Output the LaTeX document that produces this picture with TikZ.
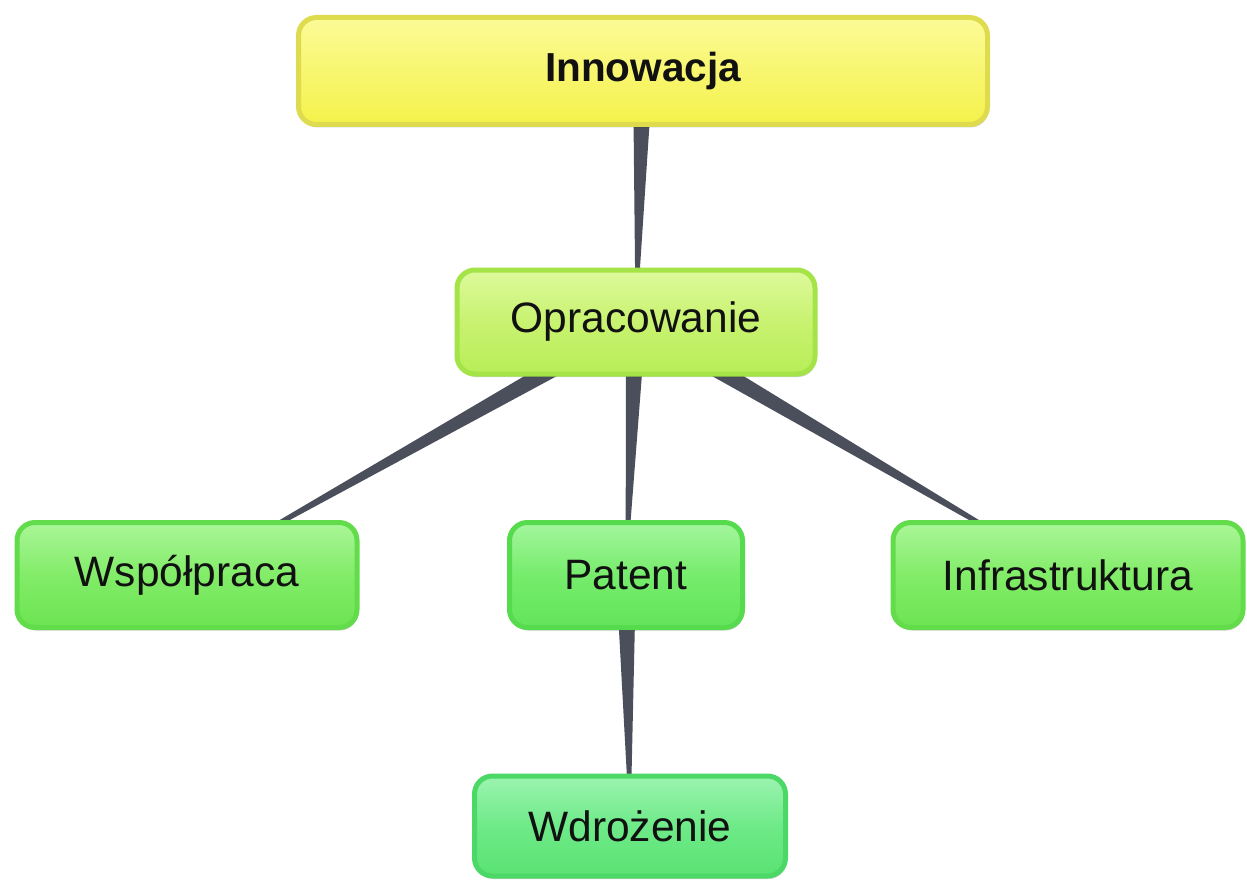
\documentclass[tikz,border=0pt]{standalone}
\usepackage{fontspec}
\setmainfont{Liberation Sans}
\usetikzlibrary{calc,shadows}
\definecolor{conncol}{HTML}{4B4F5C}
\definecolor{yelTop}{HTML}{FBFB98}
\definecolor{yelMid}{HTML}{F8F670}
\definecolor{yelBot}{HTML}{F4F24A}
\definecolor{yelBd}{HTML}{DEDC4E}
\definecolor{ygTop}{HTML}{DDFA9C}
\definecolor{ygMid}{HTML}{C8F270}
\definecolor{ygBot}{HTML}{B8EE58}
\definecolor{ygBd}{HTML}{A4E448}
\definecolor{gTop}{HTML}{AAF698}
\definecolor{gMid}{HTML}{82EC68}
\definecolor{gBot}{HTML}{6CE452}
\definecolor{gBd}{HTML}{62DC4A}
\definecolor{pTop}{HTML}{A4F69E}
\definecolor{pMid}{HTML}{76EC6C}
\definecolor{pBot}{HTML}{62E45A}
\definecolor{pBd}{HTML}{56DA4E}
\definecolor{wTop}{HTML}{9CF4B0}
\definecolor{wMid}{HTML}{6EEA88}
\definecolor{wBot}{HTML}{5AE272}
\definecolor{wBd}{HTML}{4CD866}
\definecolor{txt}{HTML}{111111}
\tikzset{
  x=1pt, y=-1pt,
  box/.style={rounded corners=18pt, line width=5pt, inner sep=0pt, text=txt,
    font=\fontsize{42.5}{50}\selectfont,
    drop shadow={shadow xshift=1pt, shadow yshift=-3pt, opacity=0.18, fill=black}},
  yelbox/.style={box, draw=yelBd, top color=yelTop, bottom color=yelBot, middle color=yelMid,
    font=\fontsize{40.5}{48}\selectfont\bfseries},
  ygbox/.style={box, draw=ygBd, top color=ygTop, bottom color=ygBot, middle color=ygMid},
  gbox/.style={box, draw=gBd, top color=gTop, bottom color=gBot, middle color=gMid},
  pbox/.style={box, draw=pBd, top color=pTop, bottom color=pBot, middle color=pMid},
  wbox/.style={box, draw=wBd, top color=wTop, bottom color=wBot, middle color=wMid},
}
\newcommand{\wedgeconn}[2]{%
  \fill[conncol] ($(#1)!10pt!90:(#2)$) -- ($(#1)!10pt!-90:(#2)$) --
    ($(#2)!0.4pt!90:(#1)$) -- ($(#2)!0.4pt!-90:(#1)$) -- cycle;}
\begin{document}
\begin{tikzpicture}
\useasboundingbox (0,0) rectangle (1247,880);
% centres
\coordinate (cInn) at (643,71);
\coordinate (cOpr) at (636,322);
\coordinate (cWsp) at (187,575);
\coordinate (cPat) at (626,575);
\coordinate (cInf) at (1068,575);
\coordinate (cWdr) at (630,826);
% connectors (behind nodes)
\wedgeconn{cInn}{cOpr}
\wedgeconn{cOpr}{cWsp}
\wedgeconn{cOpr}{cPat}
\wedgeconn{cOpr}{cInf}
\wedgeconn{cPat}{cWdr}
% nodes
\node[yelbox, minimum width=689pt, minimum height=107pt] (inn) at (cInn) {Innowacja};
\node[ygbox, minimum width=358pt, minimum height=104pt] (opr) at (cOpr) {Opracowanie};
\node[gbox, minimum width=340pt, minimum height=105pt] (wsp) at (cWsp) {Współpraca};
\node[pbox, minimum width=233pt, minimum height=105pt] (pat) at (cPat) {Patent};
\node[gbox, minimum width=350pt, minimum height=105pt] (inf) at (cInf) {Infrastruktura};
\node[wbox, minimum width=311pt, minimum height=100pt] (wdr) at (cWdr) {Wdrożenie};
\end{tikzpicture}
\end{document}
